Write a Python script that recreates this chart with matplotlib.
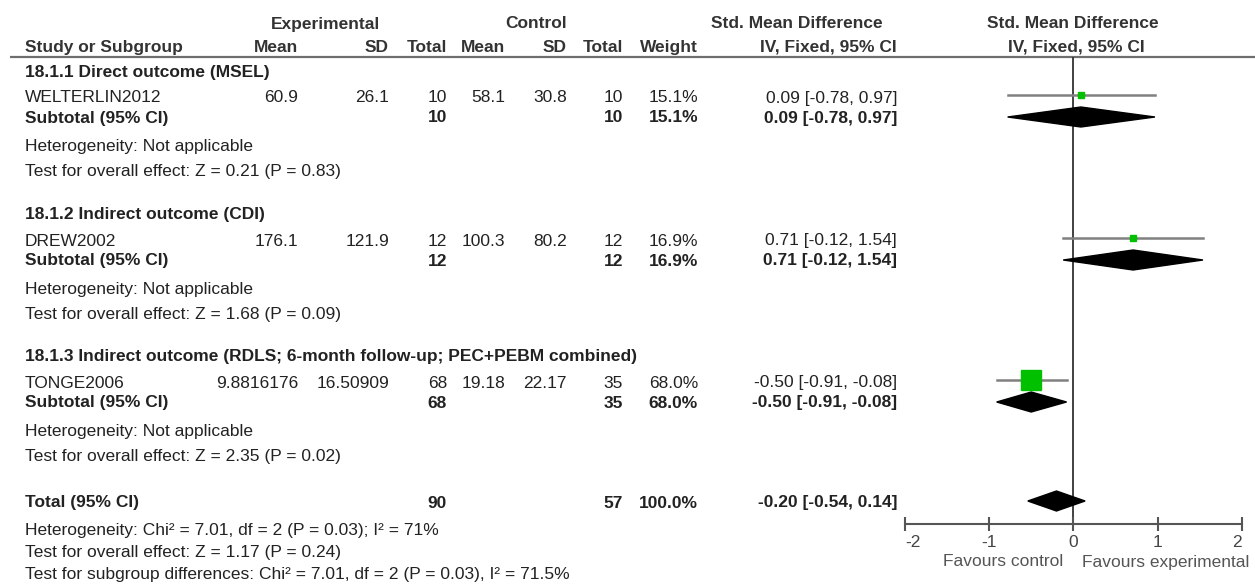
import matplotlib.pyplot as plt
from matplotlib.patches import Polygon

plt.rcParams['font.family'] = ['Liberation Sans', 'DejaVu Sans']

# study data
studies = ["WELTERLIN2012", "DREW2002", "TONGE2006"]
exp_mean = [60.9, 176.1, 9.8816176]
exp_sd = [26.1, 121.9, 16.50909]
exp_n = [10, 12, 68]
ctl_mean = [58.1, 100.3, 19.18]
ctl_sd = [30.8, 80.2, 22.17]
ctl_n = [10, 12, 35]
weights = [15.1, 16.9, 68.0]
smd = [0.09, 0.71, -0.50]
ci_lo = [-0.78, -0.12, -0.91]
ci_hi = [0.97, 1.54, -0.08]

groups = ["18.1.1 Direct outcome (MSEL)",
          "18.1.2 Indirect outcome (CDI)",
          "18.1.3 Indirect outcome (RDLS; 6-month follow-up; PEC+PEBM combined)"]
group_z = ["Test for overall effect: Z = 0.21 (P = 0.83)",
           "Test for overall effect: Z = 1.68 (P = 0.09)",
           "Test for overall effect: Z = 2.35 (P = 0.02)"]

total_n_exp = 90
total_n_ctl = 57
total_weight = 100.0
total_smd = -0.20
total_lo = -0.54
total_hi = 0.14
total_notes = ["Heterogeneity: Chi² = 7.01, df = 2 (P = 0.03); I² = 71%",
               "Test for overall effect: Z = 1.17 (P = 0.24)",
               "Test for subgroup differences: Chi² = 7.01, df = 2 (P = 0.03), I² = 71.5%"]

ticks = [-2, -1, 0, 1, 2]

# layout (pixels)
W, H = 1255, 584
group_top = [72, 215, 357]
total_y = 503
col_x = [298, 389, 447, 505, 567, 623, 698, 897]
fs = 12.5
txt = '#222222'
hdr = '#333333'

fig = plt.figure(figsize=(W / 100, H / 100), dpi=100)
ax = fig.add_axes([0, 0, 1, 1])
ax.set_xlim(0, W)
ax.set_ylim(H, 0)
ax.axis('off')


def put(x, y, s, ha='left', bold=False, color=txt):
    ax.text(x, y, s, ha=ha, va='center', fontsize=fs,
            fontweight='bold' if bold else 'normal', color=color)


# headers
put(325, 24, "Experimental", 'center', True, hdr)
put(536, 24, "Control", 'center', True, hdr)
put(883, 24, "Std. Mean Difference", 'right', True, hdr)
put(1072.5, 24, "Std. Mean Difference", 'center', True, hdr)
put(25, 47.5, "Study or Subgroup", 'left', True, hdr)
for x, s in zip(col_x, ["Mean", "SD", "Total", "Mean", "SD", "Total", "Weight",
                        "IV, Fixed, 95% CI"]):
    put(x, 47.5, s, 'right', True, hdr)
put(1076.5, 47.5, "IV, Fixed, 95% CI", 'center', True, hdr)
ax.plot([10, W], [57.3, 57.3], color='#6e6e6e', lw=1.6, solid_capstyle='butt')

# forest axes
x0px, upx = 1073.3, 84.2
fa = fig.add_axes([885 / W, (H - 524) / H, (W - 885) / W, (524 - 57.3) / H])
fa.set_xlim((885 - x0px) / upx, (W - x0px) / upx)
fa.set_ylim(524, 57.3)
fa.patch.set_alpha(0)
for sp in ['top', 'left', 'right']:
    fa.spines[sp].set_visible(False)
fa.spines['bottom'].set_bounds(ticks[0], ticks[-1])
fa.spines['bottom'].set_color('#555555')
fa.spines['bottom'].set_linewidth(1.5)
fa.set_yticks([])
fa.set_xticks(ticks)
fa.set_xticklabels([str(t) for t in ticks])
fa.tick_params(axis='x', direction='inout', length=10, width=1.5,
               color='#555555', labelcolor='#444444', labelsize=fs, pad=3)
labels = fa.get_xticklabels()
labels[0].set_ha('left')
labels[-1].set_ha('right')
fa.axvline(0, color='#333333', lw=1.3, zorder=1)

put(1063, 562, "Favours control", 'right', False, '#555555')
put(1082, 562, "Favours experimental", 'left', False, '#555555')


def diamond(lo, mid, hi, y):
    fa.add_patch(Polygon([[lo, y], [mid, y - 10], [hi, y], [mid, y + 10]],
                         closed=True, color='black', zorder=3))


for i, name in enumerate(studies):
    gy = group_top[i]
    sy = gy + 26
    suby = gy + 46
    put(25, gy, groups[i], bold=True)
    put(25, sy, name)
    vals = [exp_mean[i], exp_sd[i], exp_n[i], ctl_mean[i], ctl_sd[i], ctl_n[i],
            "%.1f%%" % weights[i],
            "%.2f [%.2f, %.2f]" % (smd[i], ci_lo[i], ci_hi[i])]
    for x, v in zip(col_x, vals):
        put(x, sy, str(v), 'right')
    put(25, suby, "Subtotal (95% CI)", bold=True)
    for x, v in zip([col_x[2], col_x[5], col_x[6], col_x[7]],
                    [exp_n[i], ctl_n[i], "%.1f%%" % weights[i],
                     "%.2f [%.2f, %.2f]" % (smd[i], ci_lo[i], ci_hi[i])]):
        put(x, suby, str(v), 'right', True)
    put(25, gy + 74.5, "Heterogeneity: Not applicable")
    put(25, gy + 99.5, group_z[i])

    # study CI and square
    my = sy - 3
    fa.plot([ci_lo[i], ci_hi[i]], [my, my], color='#808080', lw=1.8, zorder=2)
    side = 0.28 * weights[i] + 1.5
    fa.plot([smd[i]], [my], marker='s', ms=side * 0.72, color='#00c000',
            mec='#00c000', zorder=4)
    diamond(ci_lo[i], smd[i], ci_hi[i], suby - 1)

# total
put(25, total_y, "Total (95% CI)", bold=True)
for x, v in zip([col_x[2], col_x[5], col_x[6], col_x[7]],
                [total_n_exp, total_n_ctl, "%.1f%%" % total_weight,
                 "%.2f [%.2f, %.2f]" % (total_smd, total_lo, total_hi)]):
    put(x, total_y, str(v), 'right', True)
for k, s in enumerate(total_notes):
    put(25, total_y + 27 + 22.5 * k, s)
diamond(total_lo, total_smd, total_hi, total_y - 2)

fig.savefig('out.png', dpi=100)
